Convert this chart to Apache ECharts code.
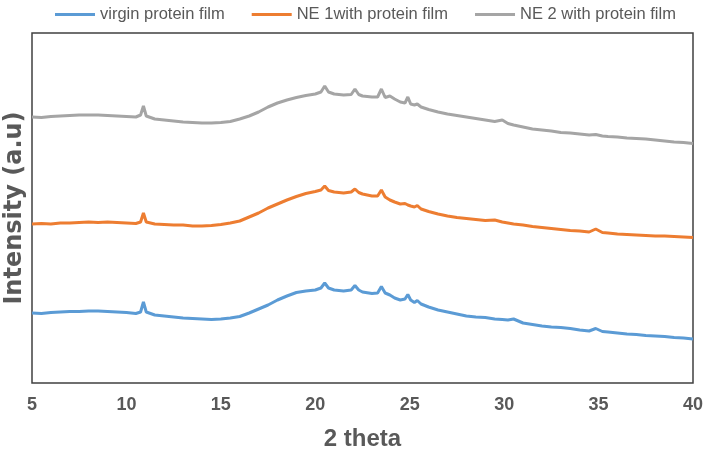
<!DOCTYPE html>
<html>
<head>
<meta charset="utf-8">
<script src="https://cdn.jsdelivr.net/npm/echarts@6/dist/echarts.min.js"></script>
<style>html,body{margin:0;padding:0;background:#fff}#c{width:709px;height:454px}</style>
</head>
<body>
<div id="c"></div>
<script>
var twoTheta = [
  5,5.5,6,6.5,7,7.5,8,8.5,9,9.5,
  10,10.5,10.75,10.9,11.05,11.5,12,12.5,13,13.5,
  14,14.5,15,15.5,16,16.5,17,17.5,18,18.5,
  19,19.5,20,20.3,20.5,20.7,21,21.5,21.9,22.1,
  22.3,22.5,23,23.3,23.5,23.7,23.95,24.2,24.5,24.75,
  24.9,25.05,25.25,25.4,25.6,26,26.5,27,27.5,28,
  28.5,29,29.5,29.9,30.2,30.5,31,31.5,32,32.5,
  33,33.5,34,34.5,34.85,35.2,35.5,36,36.5,37,
  37.5,38,38.5,39,39.5,40
];
var virgin = [
  70,69.5,70.5,71,71.5,71.5,72,72,71.5,71,
  70.5,69.5,71,81,71,68,67,66,65,64.5,
  64,63.5,64,65,66.5,70,74,78,83,87,
  90.5,92,93,95,100,95,93,92,93,97.5,
  93,91,89.5,90,96.5,90,88,85,83,84,
  88.5,83,80.5,82.5,79,76,73,71,69,67,
  66,65.5,64,63.5,63,64,60,58.5,57,56,
  55.5,54.5,53,52,54.5,51.5,51,50,49,48.5,
  47.5,47,46.5,45.5,45,44
];
var ne1 = [
  159,159.5,159,160,160,160.5,161,160.5,161,160.5,
  160,159.5,161,170,161,159,158.5,158,158,157,
  157,157.5,158.5,160,162,166,170,175,179,183,
  186.5,189.5,191.5,193,197,192.5,191,190,191,194,
  190.5,189,187,187,193,186,183,181,179,179.5,
  178,177,176,177.5,174,171.5,169,167,165.5,164.5,
  163.5,162.5,163,161,160,159,158,156.5,155.5,154.5,
  153.5,152.5,152,151,154,150.5,150,149,148.5,148,
  147.5,147,147,146.5,146,145.5
];
var ne2 = [
  266,265.5,266.5,267,267.5,268,268,268,267.5,267,
  266.5,266,268,277,267,264,263,262,261,260.5,
  260,260,260.5,261.5,264,267,271,276,280,283,
  285.5,287.5,289,291,297,291,289,288,288.5,294,
  288.5,287,286,286,294,285.5,287,284,281,280,
  286,279,278,279,276,273.5,271,269,267.5,266,
  264.5,263,261.5,263,259.5,258,256,254,253,252,
  250.5,250,249,248,248.5,247,246.5,246,245,244.5,
  244,243,242,241,240.5,239.5
];
var xTicks = [5,10,15,20,25,30,35,40];
var seriesNames = ['virgin protein film','NE 1with protein film','NE 2 with protein film'];
var seriesColors = ['#5B9BD5','#ED7D31','#A5A5A5'];

function pairs(vals){ return twoTheta.map(function(x,i){ return [x, vals[i]]; }); }
var allVals = [virgin, ne1, ne2];

var chart = echarts.init(document.getElementById('c'), null, {renderer:'canvas'});
chart.setOption({
  animation:false,
  backgroundColor:'#fff',
  legend:{
    top:1, left:50, icon:'rect', itemWidth:40, itemHeight:3, itemGap:27,
    textStyle:{fontFamily:'Liberation Sans, Arial, sans-serif', fontSize:16.5, color:'#595959'},
    data:seriesNames
  },
  grid:{left:32,right:16,top:33,bottom:71,show:true,borderColor:'#404040',borderWidth:1.5,backgroundColor:'transparent',
    outerBoundsMode:'none', containLabel:false},
  xAxis:{
    type:'value', min:5, max:40, interval:5,
    name:'2 theta', nameLocation:'middle', nameGap:44,
    nameTextStyle:{fontFamily:'Liberation Sans, Arial, sans-serif', fontWeight:'bold', fontSize:24, color:'#595959'},
    axisLine:{show:false}, axisTick:{show:false}, splitLine:{show:false},
    axisLabel:{margin:13, fontFamily:'Liberation Sans, Arial, sans-serif', fontWeight:'bold', fontSize:18, color:'#595959',
      formatter:function(v){ return xTicks.indexOf(v)>=0 ? String(v) : ''; }}
  },
  yAxis:{
    type:'value', min:0, max:350,
    name:'Intensity (a.u)', nameLocation:'middle', nameGap:5,
    nameTextStyle:{fontFamily:'DejaVu Sans, sans-serif', fontWeight:'bold', fontSize:24, color:'#595959'},
    axisLine:{show:false}, axisTick:{show:false}, axisLabel:{show:false}, splitLine:{show:false}
  },
  series: allVals.map(function(v,i){
    return {name:seriesNames[i], type:'line', data:pairs(v), showSymbol:false, symbol:'none',
      lineStyle:{color:seriesColors[i], width:3}, itemStyle:{color:seriesColors[i]}};
  })
});
</script>
</body>
</html>
